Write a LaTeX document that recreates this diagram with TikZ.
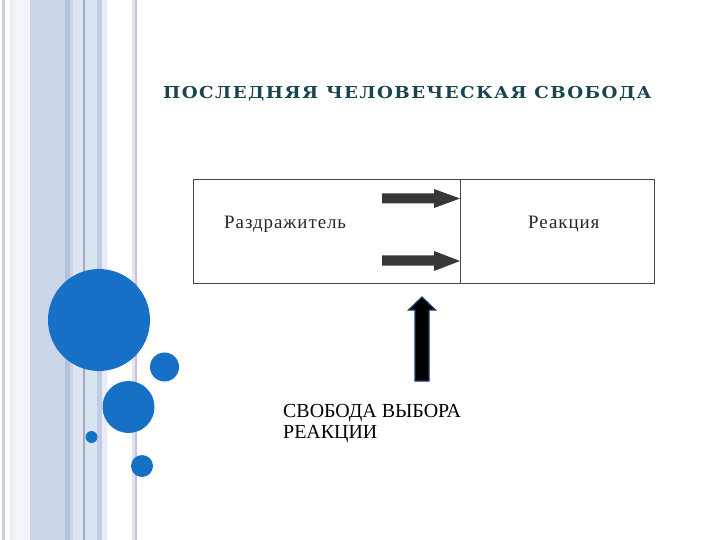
\documentclass[tikz,border=0pt]{standalone}
\usepackage{fontspec}
\setmainfont{Liberation Serif}
\newfontfamily\titlefont[LetterSpace=8]{DejaVu Serif}
\newfontfamily\boxfont[LetterSpace=5]{Liberation Serif}
\usetikzlibrary{positioning}
\definecolor{dotblue}{RGB}{22,112,198}
\definecolor{titlecol}{RGB}{28,68,80}
\definecolor{boxline}{RGB}{70,70,70}
\definecolor{arrowgray}{RGB}{55,55,55}
\definecolor{s1}{RGB}{200,210,224}
\definecolor{s2}{RGB}{232,236,246}
\definecolor{s3}{RGB}{204,214,234}
\definecolor{s4}{RGB}{180,194,218}
\definecolor{s5}{RGB}{224,228,240}
\definecolor{s6}{RGB}{160,170,195}
\definecolor{s7}{RGB}{216,228,240}
\definecolor{s8}{RGB}{192,204,228}
\definecolor{s9}{RGB}{232,236,248}
\definecolor{s10}{RGB}{200,192,220}
\tikzset{
  stripe/.style={fill=#1, draw=none},
  dot/.style={circle, fill=dotblue, draw=none, inner sep=0pt},
  halfbox/.style={draw=boxline, line width=1.1bp, inner sep=0pt},
  boxtext/.style={text=black!85, font=\boxfont\fontsize{19}{22}\selectfont, inner sep=0pt, anchor=base west},
  blockarrow/.style={fill=arrowgray, draw=none},
}
\begin{document}
\begin{tikzpicture}[x=1bp,y=-1bp]
\useasboundingbox (0,0) rectangle (720,540);
\fill[white] (0,0) rectangle (720,540);
% stripes
\fill[stripe=s1] (2,0) rectangle (5,540);
\fill[stripe=s2] (10,0) rectangle (13,540);
\fill[stripe=s2!60] (13,0) rectangle (30,540);
\fill[stripe=s3] (30,0) rectangle (65,540);
\fill[stripe=s4] (65,0) rectangle (70,540);
\fill[stripe=s3] (70,0) rectangle (73,540);
\fill[stripe=s5] (73,0) rectangle (83,540);
\fill[stripe=s6] (83,0) rectangle (84.5,540);
\fill[stripe=s7] (84.5,0) rectangle (97,540);
\fill[stripe=s8] (97,0) rectangle (102,540);
\fill[stripe=s9] (102,0) rectangle (107,540);
\fill[stripe=s5] (132,0) rectangle (135,540);
\fill[stripe=s10] (135,0) rectangle (137,540);
% circles
\node[dot, minimum size=102bp] (c1) at (99,320) {};
\node[dot, minimum size=29bp] (c2) at (164.5,367) {};
\node[dot, minimum size=52bp] (c3) at (128.5,407) {};
\node[dot, minimum size=12bp] (c4) at (91.5,437) {};
\node[dot, minimum size=22bp] (c5) at (142,466) {};
% title
\node[anchor=base west, inner sep=0pt, text=titlecol, font=\titlefont\bfseries\fontsize{16.5}{18}\selectfont] (title) at (163,99) {\scalebox{1.11}[1]{ПОСЛЕДНЯЯ ЧЕЛОВЕЧЕСКАЯ СВОБОДА}};
% box
\node[halfbox, minimum width=267bp, minimum height=104bp, anchor=north west] (stim) at (193,179) {};
\node[halfbox, minimum width=194bp, minimum height=104bp, anchor=north west] (resp) at (460,179) {};
\node[boxtext] (stimtext) at (224,229) {Раздражитель};
\node[boxtext] (resptext) at (528,229) {Реакция};
% block arrows
\fill[blockarrow] (382,193.5) -- (434,193.5) -- (434,189) -- (460,198.5) -- (434,208) -- (434,203.5) -- (382,203.5) -- cycle;
\fill[blockarrow] (382,255.5) -- (434,255.5) -- (434,251) -- (460,261) -- (434,271) -- (434,265.5) -- (382,265.5) -- cycle;
% up arrow
\filldraw[fill=black, draw={rgb,255:red,30;green,60;blue,105}, line width=1.2bp, line join=miter]
  (422,297) -- (435.5,310) -- (429,310) -- (429,381) -- (415,381) -- (415,310) -- (408.5,310) -- cycle;
% bottom text
\node[anchor=base west, inner sep=0pt, align=left, font=\fontsize{20}{20.5}\selectfont] (choice) at (283,438) {СВОБОДА ВЫБОРА\\РЕАКЦИИ};
\end{tikzpicture}
\end{document}
